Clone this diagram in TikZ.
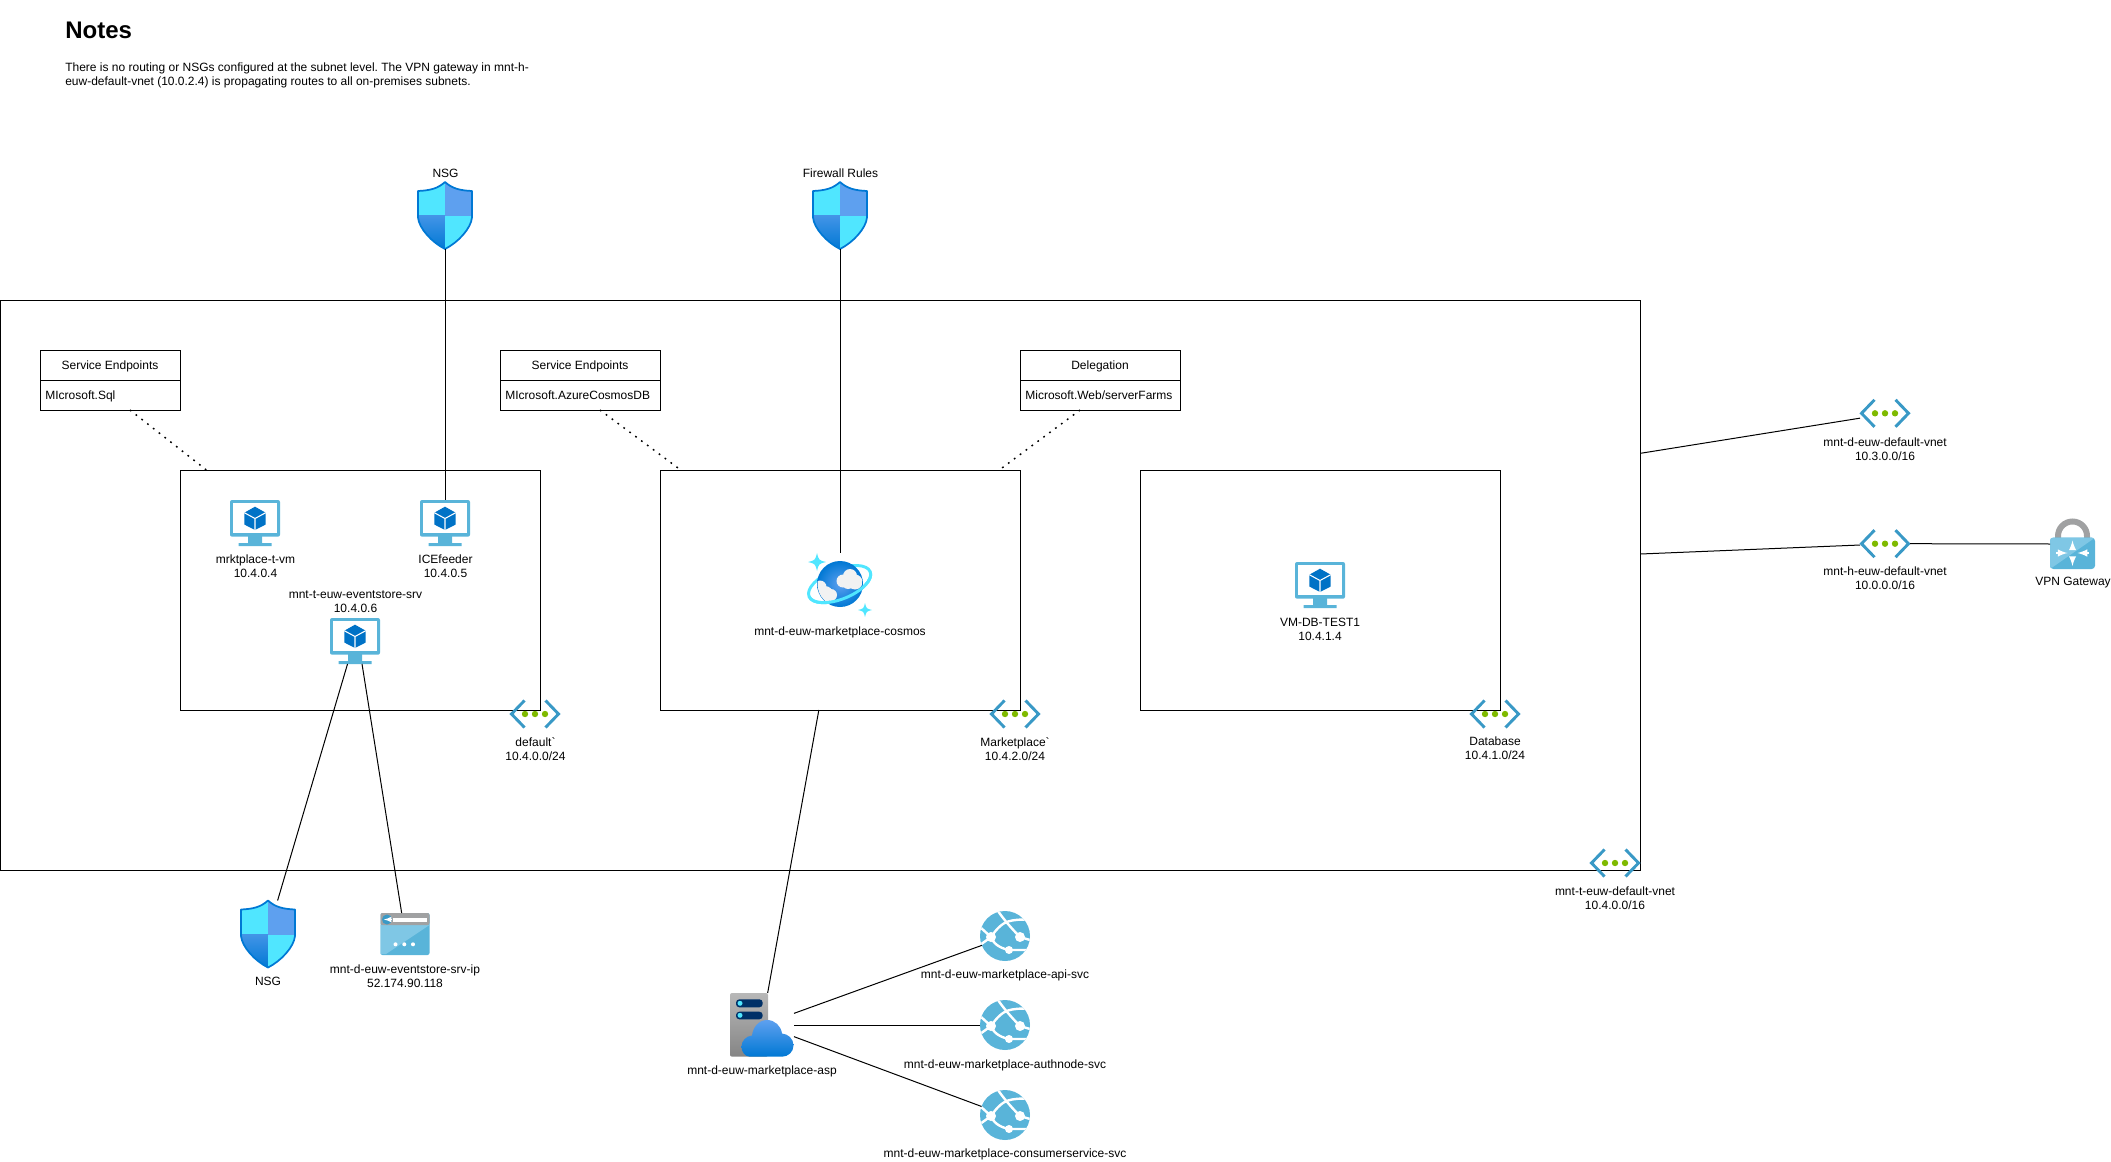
\documentclass[tikz,border=0pt]{standalone}
\usepackage{fontspec}
\setmainfont{Liberation Sans}
\newfontfamily\plainfont{Liberation Sans}
\usetikzlibrary{positioning,arrows}
\frenchspacing
\definecolor{azframe}{HTML}{59B4D9}
\definecolor{azlight}{HTML}{7FC7E5}
\definecolor{azcube}{HTML}{0072C6}
\definecolor{azchev}{HTML}{3999C6}
\definecolor{azdots}{HTML}{7FBA00}
\definecolor{azcyan}{HTML}{50E6FF}
\definecolor{azblue}{HTML}{5EA0EF}
\definecolor{azdeep}{HTML}{0078D4}
\definecolor{azgrey}{HTML}{A0A1A2}
\definecolor{aznavy}{HTML}{003067}
\def\shieldpath{(0,-33.5) .. controls (-7,-27) and (-15,-25) .. (-27,-24.5) -- (-27,2) .. controls (-26,13) and (-13,27) .. (0,33.5) .. controls (13,27) and (26,13) .. (27,2) -- (27,-24.5) .. controls (15,-25) and (7,-27) .. (0,-33.5) -- cycle}

\begin{document}
\begin{tikzpicture}[x=0.75pt,y=-0.75pt]
 \tikzset{
  box/.style={draw,line width=0.75pt,inner sep=0,outer sep=0},
  lbl/.style={inner sep=0,align=center,font=\fontsize{9}{10.5}\selectfont},
  note/.style={inner sep=0,anchor=west,align=left,font=\fontsize{9}{10.5}\selectfont},
  tagtop/.style={box,minimum width=#1,minimum height=22.5pt,text height=6.5pt,text depth=0.5pt,font=\fontsize{9}{10.5}\selectfont},
  tagbody/.style={box,inner xsep=4pt,text width=#1,minimum height=22.5pt,text height=6.5pt,text depth=0.5pt,align=left,font=\fontsize{9}{10.5}\selectfont},
  iconbox/.style={minimum width=#1,inner sep=0,outer sep=0},
  link/.style={line width=0.75pt},
  dotlink/.style={line width=1.1pt,dash pattern=on 1.3pt off 4.2pt},
  vmicon/.pic={
   \fill[azframe,rounded corners=1.5pt] (-25,-23) rectangle (25,13.7);
   \fill[azframe] (-7,13) rectangle (7,20) (-16.5,20) rectangle (16.5,23);
   \fill[white] (-21.7,-19.7) rectangle (21.7,9.7);
   \fill[azcube] (0,-16.3) -- (10.7,-10.3) -- (10.7,1.5) -- (0,7) -- (-10.7,1.5) -- (-10.7,-10.3) -- cycle;
   \draw[white,line width=0.8pt] (-10.7,-10.3) -- (0,-4.5) -- (10.7,-10.3) (0,-4.5) -- (0,7);
  },
  vneticon/.pic={
   \draw[azchev,line width=2.2pt] (-10.5,-13.5) -- (-23.5,0) -- (-10.5,13.5) (10.5,-13.5) -- (23.5,0) -- (10.5,13.5);
   \fill[azdots] (-10,0) circle (3.2) (0,0) circle (3.2) (10,0) circle (3.2);
  },
  shieldicon/.pic={
   \begin{scope}
    \clip \shieldpath;
    \fill[azcyan] (-28,-34) rectangle (0,0.5);
    \fill[azblue] (0,-34) rectangle (28,0.5);
    \shade[top color=azblue!70!azdeep,bottom color=azdeep] (-28,0.5) rectangle (0,34);
    \fill[azcyan] (0,0.5) rectangle (28,34);
   \end{scope}
   \draw[azdeep,line width=1.3pt,line join=round] \shieldpath;
  },
  spark/.pic={
   \fill[azcyan] (0,-1) .. controls (0.2,-0.2) .. (1,0) .. controls (0.2,0.2) .. (0,1) .. controls (-0.2,0.2) .. (-1,0) .. controls (-0.2,-0.2) .. (0,-1) -- cycle;
  },
  cosmosicon/.pic={
   \draw[azcyan,line width=2.2pt,rotate=22] (0,-1) ellipse [x radius=33,y radius=15];
   \shade[inner color=azblue,outer color=azdeep] (0,-1) circle (23);
   \begin{scope}
    \clip (0,-1) circle (22.5);
    \fill[black!5] (3,-4) circle (6.5) (10,-9) circle (7) (15,-3) circle (7.5) (8,-2) circle (6);
    \fill[black!5] (-20,2) circle (6.5) (-15,9) circle (8) (-9,10) circle (6) (-19,10) circle (6);
   \end{scope}
   \draw[azcyan,line width=2.2pt,rotate=22] (33,-1) arc [start angle=0,end angle=180,x radius=33,y radius=15];
   \pic[x=6.75pt,y=6.75pt] at (-17.25pt,17.25pt) {spark};
   \pic[x=5.25pt,y=5.25pt] at (18.75pt,-18.75pt) {spark};
  },
  lockicon/.pic={
   \draw[azgrey,line width=4.5pt] (-14.5,-5) -- (-14.5,-8) arc [start angle=180,end angle=360,radius=14.5] -- (14.5,-5);
   \fill[azframe,rounded corners=2.5pt] (-22.5,-6.3) rectangle (22.5,25);
   \fill[azlight,rounded corners=2pt] (-22.5,25) -- (-22.5,-6.3) -- (22.5,-6.3) -- cycle;
   \draw[white,line width=1.5pt,-latex] (0,4) -- (0,-3.5);
   \draw[white,line width=1.5pt,-latex] (0,14) -- (0,22);
   \draw[white,line width=1.5pt,-latex] (-16.5,9) -- (-5,9);
   \draw[white,line width=1.5pt,-latex] (16.5,9) -- (5,9);
  },
  ipicon/.pic={
   \fill[azframe,rounded corners=1.5pt] (-24.5,-21) rectangle (24.5,21);
   \fill[azlight] (-24.5,-9) -- (24.5,-9) -- (-19,20) -- (-24.5,20) -- cycle;
   \fill[azgrey,rounded corners=1.5pt] (-24.5,-21) rectangle (24.5,-9);
   \fill[white] (-12.3,-16.3) rectangle (21.7,-12.3);
   \fill[azchev] (-18,-14.5) circle (5);
   \draw[white,line width=0.9pt,-latex] (-14.5,-14.5) -- (-21,-14.5);
   \fill[white] (-9.5,10.3) circle (2) (-0.7,10.3) circle (2) (8,10.3) circle (2);
  },
  appicon/.pic={
   \fill[azframe] (0,0) circle (25);
   \begin{scope}
    \clip (0,0) circle (25);
    \draw[white,line width=1.8pt] (-7,-25) .. controls (-3,-19) and (5,-9) .. (15,1);
    \draw[white,line width=1.8pt] (-14,1) .. controls (-8,-8) and (-2,-13) .. (3,-14.5) .. controls (8,-16) and (15,-17) .. (25,-16);
    \draw[white,line width=1.8pt] (-25,-9) -- (-14,1) -- (-25,9);
    \draw[white,line width=1.8pt] (-14,1) .. controls (-12,7) and (-6,12) .. (4,14) -- (25,14);
    \draw[white,line width=1.8pt] (15,1) -- (25,4);
    \fill[white] (-14,1) circle (5) (15,1) circle (5) (4,14) circle (4);
   \end{scope}
  },
  aspicon/.pic={
   \shade[top color=black!28,bottom color=black!48,rounded corners=1.5pt] (-32,-32) rectangle (6,31.7);
   \fill[aznavy,rounded corners=2.5pt] (-26,-25.7) rectangle (0.7,-17.7) (-26,-13.3) rectangle (0.7,-5.7);
   \fill[azcyan] (-22,-21.7) circle (2.5) (-22,-9.7) circle (2.5);
   \shade[top color=azblue,bottom color=azdeep] (-12,31.7) .. controls (-17,31.7) and (-20.5,27) .. (-20.5,21.5) .. controls (-20.5,16) and (-16,11) .. (-10,10.5) .. controls (-9,2) and (-3,-5) .. (5,-5) .. controls (13,-5) and (19,1) .. (20,8.5) .. controls (26,9) and (31.5,13.5) .. (31.5,20.5) .. controls (31.5,27) and (26,31.7) .. (20,31.7) -- cycle;
  }
 }
 \useasboundingbox (0,0) rectangle (2111,1162);

 \node[note,font=\bfseries\fontsize{18}{21}\selectfont] (title) at (65,30) {Notes};
 \node[note] (remark) at (65,75) {There is no routing or NSGs configured at the subnet level. The VPN gateway in mnt-h-\\euw-default-vnet (10.0.2.4) is propagating routes to all on-premises subnets.};

 \node[box,minimum width=1230pt,minimum height=427.5pt] (vnet) at (820.5,585.5) {};
 \node[box,minimum width=270pt,minimum height=180pt] (subA) at (360,590) {};
 \node[box,minimum width=270pt,minimum height=180pt] (subB) at (840,590) {};
 \node[box,minimum width=270pt,minimum height=180pt] (subC) at (1320,590) {};
 \coordinate (portD) at (vnet.east |- 0,453.3);
 \coordinate (portH) at (vnet.east |- 0,554);

 \node[tagtop=105pt] (tagA) at (110,365) {Service Endpoints};
 \node[tagbody=97pt] (itemA) at (110,395) {MIcrosoft.Sql};
 \node[tagtop=120pt] (tagB) at (580,365) {Service Endpoints};
 \node[tagbody=112pt] (itemB) at (580,395) {MIcrosoft.AzureCosmosDB};
 \node[tagtop=120pt] (tagC) at (1100,365) {Delegation};
 \node[tagbody=112pt] (itemC) at (1100,395) {Microsoft.Web/serverFarms};

 \foreach \name/\x/\y in {mrkt/255/523,ice/445/523,store/355/641,dbvm/1320/585} {
  \node[iconbox=37.5pt,minimum height=34.5pt] (\name) at (\x,\y) {};
  \pic at (\name) {vmicon};
 }
 \foreach \name/\x/\y in {netA/535/714,netB/1015/714,netC/1495/714,netT/1615/863,netD/1885/413.3,netH/1885/543.7} {
  \node[iconbox=37.5pt,minimum height=21pt] (\name) at (\x,\y) {};
  \pic at (\name) {vneticon};
 }
 \foreach \name/\x/\y in {nsgA/445/215.5,fire/840/215.5,nsgB/268/934} {
  \node[iconbox=41.25pt,minimum height=50.25pt] (\name) at (\x,\y) {};
  \pic at (\name) {shieldicon};
 }
 \foreach \name/\y in {appA/936,appB/1025,appC/1115} {
  \node[circle,iconbox=37.5pt] (\name) at (1005,\y) {};
  \pic at (\name) {appicon};
 }
 \node[iconbox=48pt,minimum height=48pt] (cosmos) at (840,585) {};
 \pic at (cosmos) {cosmosicon};
 \node[iconbox=33.75pt,minimum height=37.5pt] (lock) at (2072.5,544) {};
 \pic at (lock) {lockicon};
 \node[iconbox=36.75pt,minimum height=31.5pt] (ipaddr) at (405,934) {};
 \pic at (ipaddr) {ipicon};
 \node[iconbox=48pt,minimum height=48pt] (asp) at (762,1025) {};
 \pic at (asp) {aspicon};

 \draw[link] (nsgA.south) to (ice.north);
 \draw[link] (fire.south) to (cosmos.north);
 \draw[link] (store.-108) to (nsgB.74);
 \draw[link] (store.-73) to (ipaddr.99);
 \draw[link] (subB.-100) to (asp.80);
 \draw[link] (asp.20) to (appA.202);
 \draw[link] (asp.east) to (appB.west);
 \draw[link] (asp.-20) to (appC.160);
 \draw[link] (portD) to (netD.191);
 \draw[link] (portH) to (netH.183);
 \draw[link] (netH.east) to (lock.west);
 \draw[dotlink] (itemA.-37) to (subA.142);
 \draw[dotlink] (itemB.-37) to (subB.143);
 \draw[dotlink] (itemC.-143) to (subB.37);

 \node[lbl] (nsgAL) at (445.5,173) {NSG};
 \node[lbl] (fireL) at (840.5,173) {Firewall Rules};
 \node[lbl] (mrktL) at (255.5,566.4) {mrktplace-t-vm\\10.4.0.4};
 \node[lbl] (iceL) at (445.5,566.4) {ICEfeeder\\10.4.0.5};
 \node[lbl] (storeL) at (355.5,601.8) {mnt-t-euw-eventstore-srv\\10.4.0.6};
 \node[lbl] (cosmosL) at (840,632) {mnt-d-euw-marketplace-cosmos};
 \node[lbl] (dbvmL) at (1320,629) {VM-DB-TEST1\\10.4.1.4};
 \node[lbl] (netAL) at (535.5,748.7) {{\plainfont default`}\\10.4.0.0/24};
 \node[lbl] (netBL) at (1015,748.7) {{\plainfont Marketplace`}\\10.4.2.0/24};
 \node[lbl] (netCL) at (1495,748.7) {Database\\10.4.1.0/24};
 \node[lbl] (netTL) at (1615,898) {mnt-t-euw-default-vnet\\10.4.0.0/16};
 \node[lbl] (netDL) at (1885,448.8) {mnt-d-euw-default-vnet\\10.3.0.0/16};
 \node[lbl] (netHL) at (1885,578.7) {mnt-h-euw-default-vnet\\10.0.0.0/16};
 \node[lbl] (lockL) at (2073,582.3) {VPN Gateway};
 \node[lbl] (nsgBL) at (268,981.7) {NSG};
 \node[lbl] (ipaddrL) at (405,976) {mnt-d-euw-eventstore-srv-ip\\52.174.90.118};
 \node[lbl] (aspL) at (762,1071) {mnt-d-euw-marketplace-asp};
 \node[lbl] (appAL) at (1005,975) {mnt-d-euw-marketplace-api-svc};
 \node[lbl] (appBL) at (1005,1065) {mnt-d-euw-marketplace-authnode-svc};
 \node[lbl] (appCL) at (1005,1154) {mnt-d-euw-marketplace-consumerservice-svc};
\end{tikzpicture}
\end{document}
